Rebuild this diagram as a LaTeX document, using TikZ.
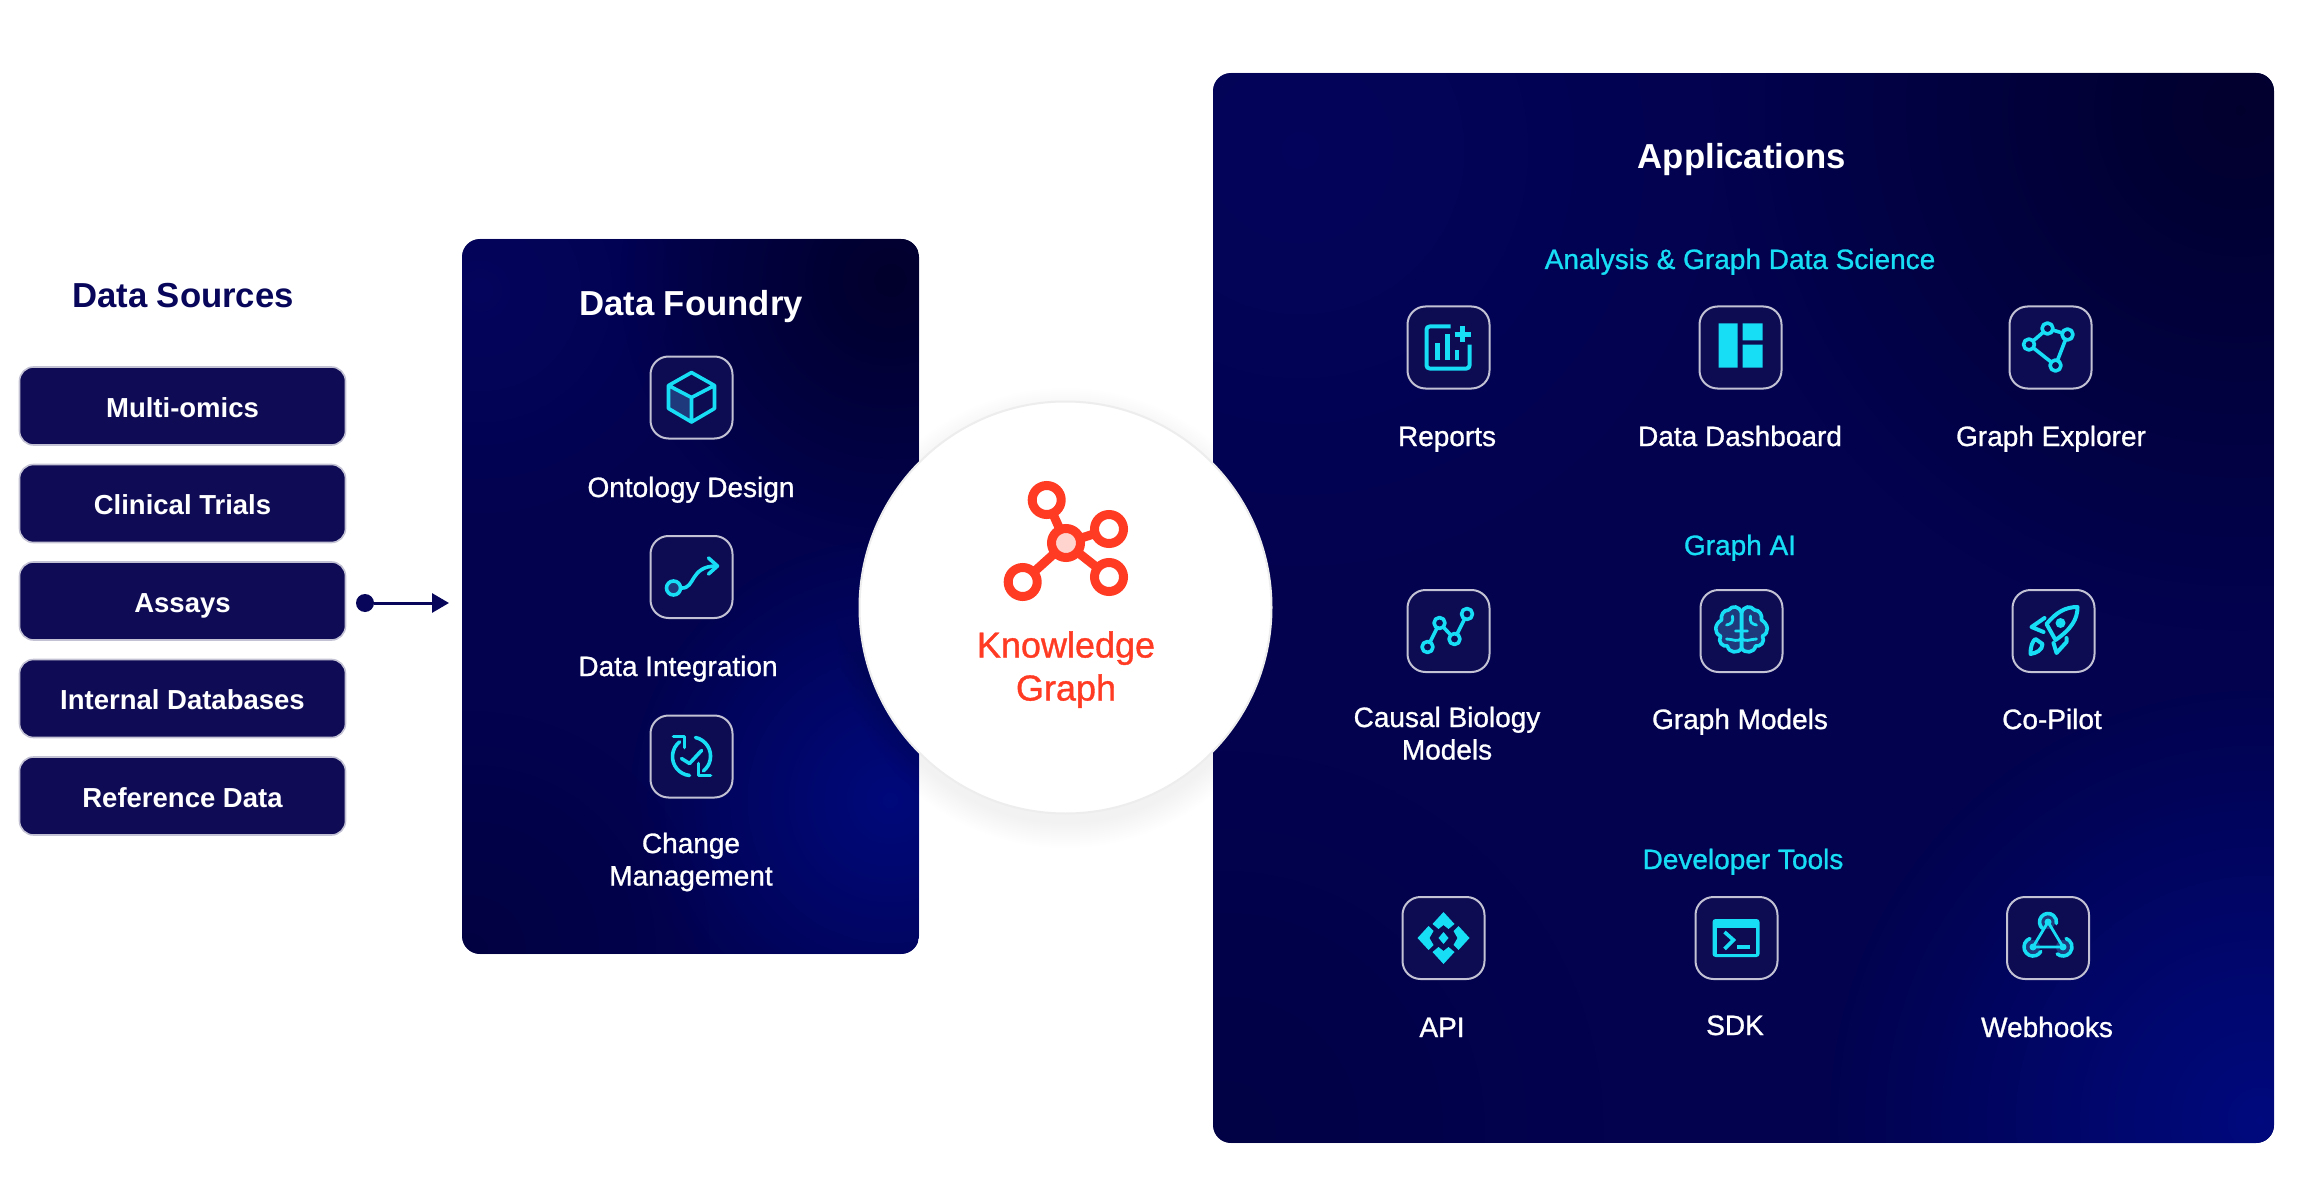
\documentclass[tikz,border=0pt]{standalone}
\usepackage{fontspec}
\usetikzlibrary{arrows.meta,fadings}
\setmainfont{Liberation Sans}
\newfontfamily\medfont[FakeBold=1]{Liberation Sans}
\definecolor{navy}{HTML}{0F0C55}
\definecolor{titlenavy}{HTML}{07065A}
\definecolor{cyanic}{HTML}{17DDF5}
\definecolor{kgred}{HTML}{FF3B24}
\definecolor{facefill}{HTML}{1F3A7C}
\definecolor{iconbg}{HTML}{0D0B52}
\definecolor{panelbase}{HTML}{02024F}
\definecolor{paneldark}{HTML}{01002A}
\definecolor{panelbright}{HTML}{000A80}
\definecolor{paneltl}{HTML}{060668}
\tikzfading[name=softc,inner color=transparent!0,outer color=transparent!100]
\newcommand{\brainhalfshape}{%
  \filldraw[ic,fill=facefill] (0,-18) .. controls (2,-25) and (9,-26) .. (13,-21) .. controls (18,-21) and (21,-16) .. (20,-11) .. controls (27,-7) and (28,2) .. (21,5) .. controls (24,11) and (19,16) .. (14,15) .. controls (13,22) and (3,23) .. (0,17) -- cycle;
  \draw[ic,line width=2.8pt] (0,-18)--(0,17) (0,0)--(6,0) (9,-15) .. controls (8,-9) and (10,-7) .. (15,-6) (0,7) .. controls (3,12) and (9,8) .. (15,8);
}
\tikzset{
  x=1pt,y=-1pt,
  big/.style={font=\fontsize{34.7}{40}\selectfont\bfseries,inner sep=0pt,anchor=base},
  srcbox/.style={fill=navy,draw=navy!25!white,line width=1.6pt,rounded corners=14pt,minimum width=326pt,minimum height=78pt,inner sep=0pt,text=white,text height=22pt,text depth=0pt,font=\fontsize{27.5}{30}\selectfont\bfseries},
  iconbox/.style={fill=iconbg,draw=white!75!iconbg,line width=2pt,rounded corners=18pt,minimum size=82pt,inner sep=0pt},
  lab/.style={text=white,font=\fontsize{28}{32.5}\selectfont\medfont,inner sep=0pt,anchor=base,align=center},
  sub/.style={text=cyanic,font=\fontsize{28}{32.5}\selectfont\medfont,inner sep=0pt,anchor=base},
  ic/.style={draw=cyanic,line width=3.6pt,line join=round,line cap=round},
  icf/.style={fill=cyanic},
  kgline/.style={draw=kgred,line width=9pt},
  kgsat/.style={draw=kgred,line width=9pt,fill=white,circle,minimum size=29pt,inner sep=0pt},
  cubeicon/.pic={
    \fill[facefill] (-23,-12)--(0,0)--(0,24.5)--(-23,11)--cycle;
    \draw[ic] (0,-25)--(23,-12)--(23,11)--(0,24.5)--(-23,11)--(-23,-12)--cycle (-23,-12)--(0,0)--(23,-12) (0,0)--(0,24.5);
  },
  routeicon/.pic={
    \fill[facefill] (-18,11) circle (7);
    \draw[ic] (-18,11) circle (7);
    \draw[ic] (-10,11) .. controls (4,12) and (-2,-11) .. (25,-11);
    \draw[ic] (17,-19)--(26,-11)--(17,-3);
  },
  changeicon/.pic={
    \draw[ic] (-2,19) arc[start angle=96,end angle=231,radius=19];
    \draw[ic] (4,-19) arc[start angle=-78,end angle=51,radius=19];
    \draw[ic] (-18,-20)--(-7,-20)--(-7,-9);
    \draw[ic] (19,19)--(7,19)--(7,7);
    \draw[ic] (-10,2)--(-2,7)--(10,-6);
  },
  reportsicon/.pic={
    \draw[ic,line width=4pt,line cap=butt,rounded corners=3pt] (2,-21)--(-22,-21)--(-22,21)--(21,21)--(21,-3);
    \draw[ic,line width=4.4pt,line cap=butt] (14,-21)--(14,-5) (6,-13)--(22,-13);
    \draw[ic,line cap=butt,line width=4.4pt] (-11,12)--(-11,-4) (-1,12)--(-1,-13) (8.5,12)--(8.5,2);
  },
  dashicon/.pic={
    \fill[icf] (-22,-24) rectangle (-3,20) (2,-24) rectangle (22,-7) (2,-3) rectangle (22,20);
  },
  exploreicon/.pic={
    \draw[ic] (-21.5,-3)--(-3,-19)--(17,-13)--(5,18)--cycle;
    \foreach \p in {(-21.5,-3),(-3,-19),(17,-13),(5,18)} \filldraw[ic,fill=iconbg] \p circle (5.5);
  },
  causalicon/.pic={
    \draw[ic] (-21,16)--(-9,-8)--(6,8)--(18.5,-17);
    \foreach \p in {(-21,16),(-9,-8),(6,8),(18.5,-17)} \filldraw[ic,fill=iconbg] \p circle (5.5);
  },
  brainicon/.pic={
    \brainhalfshape
    \begin{scope}[xscale=-1]\brainhalfshape\end{scope}
  },
  rocketicon/.pic={
    \draw[ic,line width=4pt] (24,-24) .. controls (12,-24) and (3,-19) .. (-7,-7) -- (2,9) .. controls (18,-2) and (24,-12) .. (24,-24) -- cycle;
    \draw[ic,line width=4pt] (-9,-13)--(-22,-4)--(-10,1);
    \draw[ic,line width=4pt] (13,7)--(13,11)--(3,22)--(0,12);
    \draw[ic,line width=4pt] (-23,23) .. controls (-23,15) and (-21,10) .. (-18,8) -- (-11,13) .. controls (-11,19) and (-17,22) .. (-23,23) -- cycle;
    \fill[icf] (7,-8) circle (5);
  },
  apiicon/.pic={
    \fill[icf] (0,-26)--(11,-14)--(5,-9)--(0,-13)--(-5,-9)--(-11,-14)--cycle;
    \fill[icf] (0,26)--(11,14)--(5,9)--(0,13)--(-5,9)--(-11,14)--cycle;
    \fill[icf] (-26,0)--(-15,-12)--(-10,-7)--(-14,0)--(-10,7)--(-15,12)--cycle;
    \fill[icf] (26,0)--(15,-12)--(10,-7)--(14,0)--(10,7)--(15,12)--cycle;
    \fill[icf] (-5,0)--(0,-6)--(5,0)--(0,6)--cycle;
  },
  sdkicon/.pic={
    \fill[icf,rounded corners=3pt] (-24,-19) rectangle (23,19);
    \fill[iconbg] (-20,-10) rectangle (19,16);
    \draw[ic,line cap=butt,line join=miter] (-12,-6)--(-3,2)--(-12,11);
    \fill[icf] (0,7) rectangle (13,11);
  },
  hookicon/.pic={
    \fill[facefill] (0,-16) circle (7) (-15,9) circle (7) (15,9) circle (7);
    \draw[ic,line width=2.8pt] (0,-16)--(-15,9)--(15,9)--cycle;
    \fill[icf] (0,-16) circle (3.5) (-15,9) circle (3.5) (15,9) circle (3.5);
    \draw[ic] (0,-16) ++(130:8.5) arc[start angle=130,end angle=370,radius=8.5];
    \draw[ic] (-15,9) ++(250:9) arc[start angle=250,end angle=30,radius=9];
    \draw[ic] (15,9) ++(130:9) arc[start angle=130,end angle=-70,radius=9];
  }
}
\begin{document}
\begin{tikzpicture}
\useasboundingbox (0,0) rectangle (2300,1182);
\fill[white] (0,0) rectangle (2300,1182);

% Data Foundry panel
\begin{scope}
  \path[clip,rounded corners=18pt] (462,239) rectangle (919,954);
  \fill[panelbase] (462,239) rectangle (919,954);
  \fill[paneltl,path fading=softc,opacity=.55] (480,290) circle (240);
  \fill[paneldark,path fading=softc,opacity=.95] (890,280) circle (270);
  \fill[panelbright,path fading=softc,opacity=.9] (890,800) circle (260);
  \fill[paneldark,path fading=softc,opacity=.35] (470,950) circle (240);
\end{scope}

% Applications panel
\begin{scope}
  \path[clip,rounded corners=18pt] (1213,73) rectangle (2274,1143);
  \fill[panelbase] (1213,73) rectangle (2274,1143);
  \fill[paneltl,path fading=softc,opacity=.5] (1300,150) circle (450);
  \fill[paneldark,path fading=softc,opacity=.9] (2240,110) circle (520);
  \fill[panelbright,path fading=softc,opacity=.95] (2260,1120) circle (430);
  \fill[paneldark,path fading=softc,opacity=.25] (1225,1130) circle (380);
\end{scope}

% Data Sources
\node[big,text=titlenavy] (dstitle) at (183,308) {Data Sources};
\node[srcbox] (s1) at (182.5,406) {Multi-omics};
\node[srcbox] (s2) at (182.5,503.5) {Clinical Trials};
\node[srcbox] (s3) at (182.5,601) {Assays};
\node[srcbox] (s4) at (182.5,698.5) {Internal Databases};
\node[srcbox] (s5) at (182.5,796) {Reference Data};
\node[circle,fill=titlenavy,minimum size=18pt,inner sep=0pt] (srcdot) at (365,603) {};
\coordinate (foundryin) at (449,603);
\draw[titlenavy,line width=3pt,-{Triangle[length=17pt,width=19pt]}] (srcdot) -- (foundryin);

% Data Foundry content
\node[big,text=white] (dftitle) at (691,316) {Data Foundry};
\node[iconbox] (b1) at (691.5,397.5) {};
\pic at (b1.center) {cubeicon};
\node[lab] (l1) at (691,497) {Ontology Design};
\node[iconbox] (b2) at (691.5,577) {};
\pic at (b2.center) {routeicon};
\node[lab] (l2) at (678,676) {Data Integration};
\node[iconbox] (b3) at (691.5,756.5) {};
\pic at (b3.center) {changeicon};
\node[lab] (l3) at (691,885.5) {Change\\Management};

% Applications content
\node[big,text=white] (apptitle) at (1742,169) {Applications};
\node[sub] (h1) at (1740,269) {Analysis \& Graph Data Science};
\node[sub] (h2) at (1740,555) {Graph AI};
\node[sub] (h3) at (1743,869) {Developer Tools};

\node[iconbox] (a1) at (1448.5,347.5) {};
\pic at (a1.center) {reportsicon};
\node[lab] (t1) at (1447,446) {Reports};
\node[iconbox] (a2) at (1740.5,347.5) {};
\pic at (a2.center) {dashicon};
\node[lab] (t2) at (1740,446) {Data Dashboard};
\node[iconbox] (a3) at (2050.5,347.5) {};
\pic at (a3.center) {exploreicon};
\node[lab] (t3) at (2051,446) {Graph Explorer};

\node[iconbox] (a4) at (1448.5,631) {};
\pic at (a4.center) {causalicon};
\node[lab] (t4) at (1447,759.5) {Causal Biology\\Models};
\node[iconbox] (a5) at (1741.5,631) {};
\pic at (a5.center) {brainicon};
\node[lab] (t5) at (1740,729) {Graph Models};
\node[iconbox] (a6) at (2053.5,631) {};
\pic at (a6.center) {rocketicon};
\node[lab] (t6) at (2052,729) {Co-Pilot};

\node[iconbox] (a7) at (1443.5,938) {};
\pic at (a7.center) {apiicon};
\node[lab] (t7) at (1442,1037) {API};
\node[iconbox] (a8) at (1736.5,938) {};
\pic at (a8.center) {sdkicon};
\node[lab] (t8) at (1735,1035) {SDK};
\node[iconbox] (a9) at (2048,938) {};
\pic at (a9.center) {hookicon};
\node[lab] (t9) at (2047,1037) {Webhooks};

% Knowledge Graph circle with its soft shadow
\foreach \r in {206,208,...,230}
  \fill[titlenavy,opacity=0.004] (1065.5,618) circle (\r);
\node[circle,fill=white,draw=black!7!white,line width=2pt,minimum size=412pt,inner sep=0pt] (kg) at (1065.5,607.5) {};
\node[draw=none,fill=none,inner sep=0pt] (kh) at (1066,543) {};
\coordinate (k1) at (1046.7,500);
\coordinate (k2) at (1109,529);
\coordinate (k3) at (1109,577);
\coordinate (k4) at (1022.7,582);
\draw[kgline] (kh.center) -- (k1) (kh.center) -- (k2) (kh.center) -- (k3) (kh.center) -- (k4);
\filldraw[kgred,line width=9pt,fill=kgred!22!white] (kh.center) circle (14.5);
\node[kgsat] (n1) at (k1) {};
\node[kgsat] (n2) at (k2) {};
\node[kgsat] (n3) at (k3) {};
\node[kgsat] (n4) at (k4) {};
\node[text=kgred,font=\fontsize{36}{43}\selectfont\medfont,inner sep=0pt,anchor=base,align=center] (kgt) at (1066,700.5) {Knowledge\\Graph};
\end{tikzpicture}
\end{document}
